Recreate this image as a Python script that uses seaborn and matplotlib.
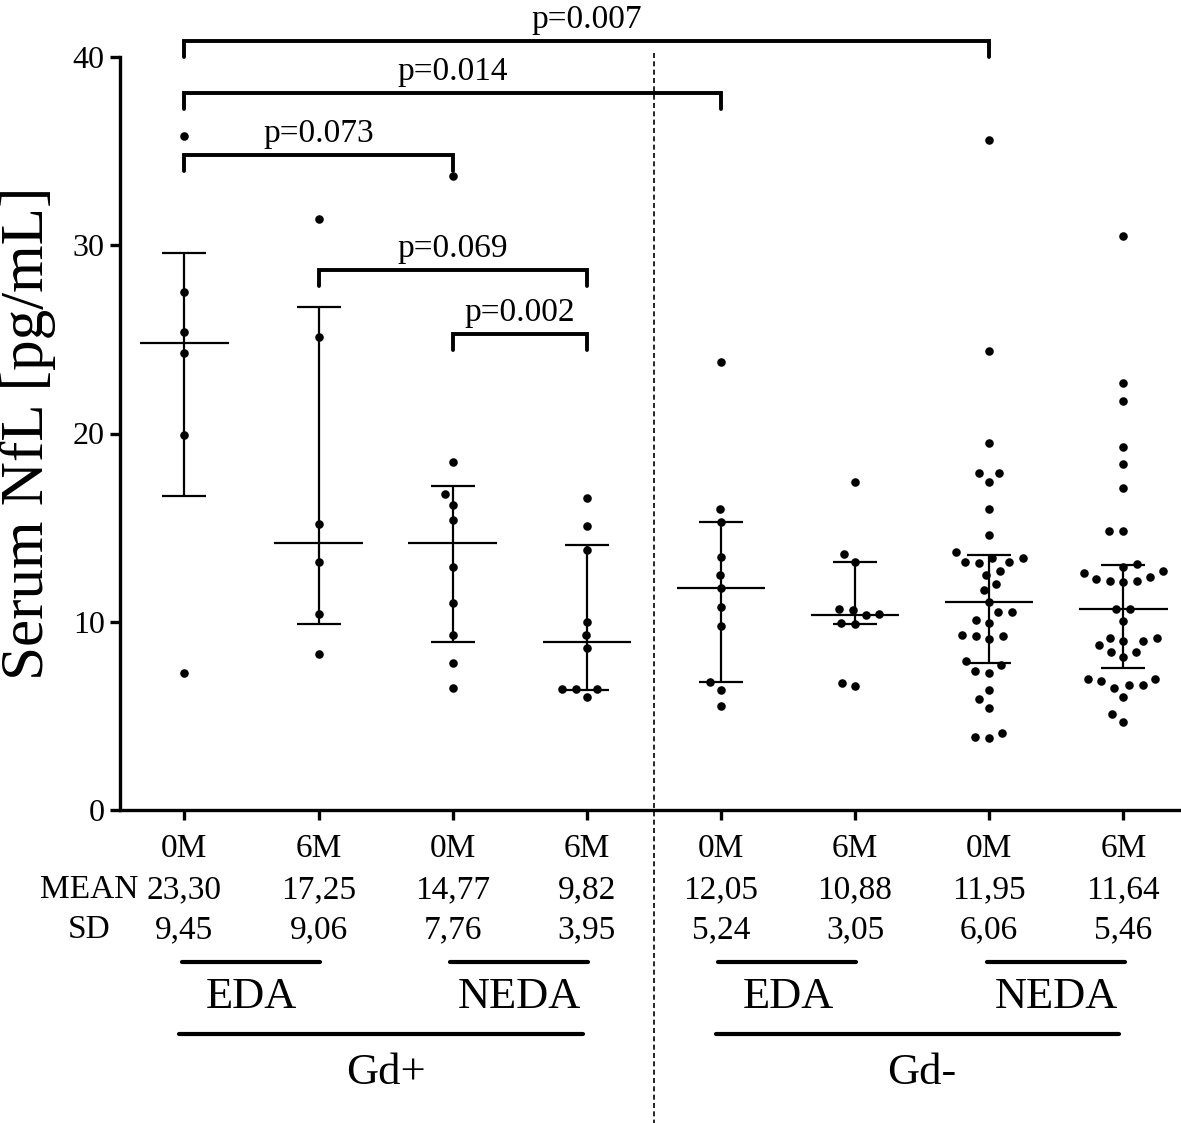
# Gráfico de NfL sérico por grupo (Gd+/Gd-, EDA/NEDA, 0M/6M)

import numpy as np
import pandas as pd
import matplotlib
matplotlib.use("Agg")
import matplotlib.pyplot as plt
import seaborn as sns

# Grupos na ordem do eixo x
grupos = ["Gd+ EDA 0M", "Gd+ EDA 6M", "Gd+ NEDA 0M", "Gd+ NEDA 6M",
          "Gd- EDA 0M", "Gd- EDA 6M", "Gd- NEDA 0M", "Gd- NEDA 6M"]
rotulos_x = ["0M", "6M", "0M", "6M", "0M", "6M", "0M", "6M"]

# Valores individuais (pg/mL)
gdp_eda_0m = [35.8, 27.5, 25.4, 24.3, 19.9, 7.3]
gdp_eda_6m = [31.4, 25.1, 15.2, 13.2, 10.4, 8.3]
gdp_neda_0m = [33.7, 18.5, 16.8, 16.2, 15.4, 12.9, 11.0, 9.3, 7.8, 6.5]
gdp_neda_6m = [16.6, 15.1, 13.8, 10.0, 9.3, 8.6, 6.45, 6.45, 6.45, 6.0]
gdm_eda_0m = [23.8, 16.0, 15.3, 13.45, 12.5, 11.8, 10.8, 9.8, 6.8, 6.4, 5.5]
gdm_eda_6m = [17.4, 13.6, 13.2, 10.7, 10.6, 10.4, 10.35, 9.96, 9.9, 6.76, 6.57]
gdm_neda_0m = [35.6, 24.4, 19.5, 17.9, 17.9, 17.4, 16.0, 14.6,
               13.2, 13.4, 13.7, 13.1, 13.2, 13.4,
               12.7, 12.5, 12.0, 11.7, 11.06, 10.5, 10.5, 10.1, 9.96,
               9.3, 9.25, 9.1, 9.25, 7.9, 7.7, 7.4, 7.3, 6.4, 5.9, 5.4,
               4.1, 3.9, 3.8]
gdm_neda_6m = [30.5, 22.7, 21.7, 19.3, 18.4, 17.1, 14.8, 14.8,
               13.06, 12.9, 12.6, 12.7, 12.4, 12.25, 12.15, 12.15, 12.1,
               10.67, 10.67, 10.06, 9.15, 9.15, 9.0, 9.0, 8.76, 8.4, 8.4,
               8.13, 6.96, 6.96, 6.83, 6.64, 6.64, 6.5, 6.0, 5.1, 4.7]

# Mediana e intervalo interquartil (linhas horizontais do gráfico)
medianas = [24.8, 14.2, 14.2, 8.9, 11.8, 10.35, 11.06, 10.67]
quartil_1 = [16.7, 9.9, 8.9, 6.4, 6.8, 9.9, 7.8, 7.54]
quartil_3 = [29.6, 26.7, 17.2, 14.1, 15.3, 13.2, 13.55, 12.99]

# Tabela de média e desvio padrão abaixo do eixo
medias_txt = ["23,30", "17,25", "14,77", "9,82", "12,05", "10,88", "11,95", "11,64"]
dp_txt = ["9,45", "9,06", "7,76", "3,95", "5,24", "3,05", "6,06", "5,46"]

# Comparações (grupo a, grupo b, altura, texto)
comp_a = [0, 0, 0, 1, 2]
comp_b = [6, 4, 2, 3, 3]
comp_y = [40.85, 38.1, 34.8, 28.7, 25.3]
comp_p = ["p=0.007", "p=0.014", "p=0.073", "p=0.069", "p=0.002"]

# Rótulos de subgrupos
sub_nomes = ["EDA", "NEDA", "EDA", "NEDA"]
sub_ini = [0, 2, 4, 6]
sub_fim = [1, 3, 5, 7]
gd_nomes = ["Gd+", "Gd-"]
gd_ini = [0, 4]
gd_fim = [3, 7]


def montar_dataframe():
    series = [gdp_eda_0m, gdp_eda_6m, gdp_neda_0m, gdp_neda_6m,
              gdm_eda_0m, gdm_eda_6m, gdm_neda_0m, gdm_neda_6m]
    linhas = []
    for g, vals in zip(grupos, series):
        for v in vals:
            linhas.append({"grupo": g, "nfl": v})
    return pd.DataFrame(linhas)


def visualizar():
    df = montar_dataframe()

    sns.set_style("ticks", {"axes.edgecolor": "black", "text.color": "black",
                            "xtick.color": "black", "ytick.color": "black",
                            "axes.labelcolor": "black"})
    plt.rcParams["font.family"] = ["Liberation Serif", "DejaVu Serif"]

    fig = plt.figure(figsize=(11.81, 11.23), dpi=100)
    ax = fig.add_axes([120 / 1181, 313 / 1123, 1061 / 1181, 753 / 1123])

    # Swarm "largo" só para obter as posições espalhadas dos pontos
    sns.swarmplot(data=df, x="grupo", y="nfl", order=grupos, size=9.5,
                  color="k", ax=ax, warn_thresh=1.0)
    ax.set_xlim(-0.48, 7.43)
    ax.set_ylim(0, 40)
    fig.canvas.draw()
    posicoes = [c.get_offsets().copy() for c in ax.collections]
    for c in list(ax.collections):
        c.remove()
    for p in posicoes:
        ax.scatter(p[:, 0], p[:, 1], s=38, color="k", linewidths=0, zorder=3)

    x = np.arange(len(grupos))
    med = np.array(medianas)
    q1 = np.array(quartil_1)
    q3 = np.array(quartil_3)

    # Mediana e IQR
    ax.hlines(med, x - 0.33, x + 0.33, color="k", lw=1.6, zorder=2)
    ax.errorbar(x, med, yerr=[med - q1, q3 - med], fmt="none", ecolor="k",
                elinewidth=1.6, capsize=15.5, capthick=1.6, zorder=2)

    # Colchetes com valores de p
    for a, b, yb, txt in zip(comp_a, comp_b, comp_y, comp_p):
        ax.plot([a, a, b, b], [yb - 0.85, yb, yb, yb - 0.85], color="k",
                lw=2.8, clip_on=False, solid_joinstyle="miter")
        ax.text((a + b) / 2, yb + 0.7, txt, ha="center", va="baseline",
                fontsize=24, clip_on=False)

    # Linha tracejada separando Gd+ e Gd-
    trans = ax.get_xaxis_transform()
    ax.plot([3.5, 3.5], [1.005, -0.416], transform=trans, color="k",
            lw=1.2, ls=(0, (3, 2)), clip_on=False)

    # Eixos
    sns.despine(ax=ax)
    ax.spines["left"].set_linewidth(2.4)
    ax.spines["bottom"].set_linewidth(2.4)
    ax.set_yticks([0, 10, 20, 30, 40])
    ax.set_xticks(x)
    ax.set_xticklabels(rotulos_x)
    ax.tick_params(axis="y", length=7, width=2.4, labelsize=23, pad=4)
    ax.tick_params(axis="x", length=7, width=2.4, labelsize=24, pad=10)
    ax.set_xlabel("")
    ax.set_ylabel("Serum NfL [pg/mL]", fontsize=44)
    ax.yaxis.set_label_coords(-0.06, 0.5)

    # Tabela de média e DP
    ax.text(-0.71, -0.106, "MEAN", transform=trans, ha="center", va="center",
            fontsize=24, clip_on=False)
    ax.text(-0.71, -0.159, "SD", transform=trans, ha="center", va="center",
            fontsize=24, clip_on=False)
    for xi, m, s in zip(x, medias_txt, dp_txt):
        ax.text(xi, -0.106, m, transform=trans, ha="center", va="center",
                fontsize=24, clip_on=False)
        ax.text(xi, -0.159, s, transform=trans, ha="center", va="center",
                fontsize=24, clip_on=False)

    # Subgrupos EDA/NEDA e Gd+/Gd-
    for nome, i, f in zip(sub_nomes, sub_ini, sub_fim):
        ax.plot([i - 0.02, f + 0.01], [-0.202, -0.202], transform=trans,
                color="k", lw=3, clip_on=False)
        ax.text((i + f) / 2, -0.248, nome, transform=trans, ha="center",
                va="center", fontsize=32, clip_on=False)
    for nome, i, f in zip(gd_nomes, gd_ini, gd_fim):
        ax.plot([i - 0.04, f - 0.03], [-0.2975, -0.2975], transform=trans,
                color="k", lw=3, clip_on=False)
        ax.text((i + f) / 2, -0.349, nome, transform=trans, ha="center",
                va="center", fontsize=32, clip_on=False)

    fig.savefig("out.png", dpi=100)


if __name__ == "__main__":
    visualizar()
